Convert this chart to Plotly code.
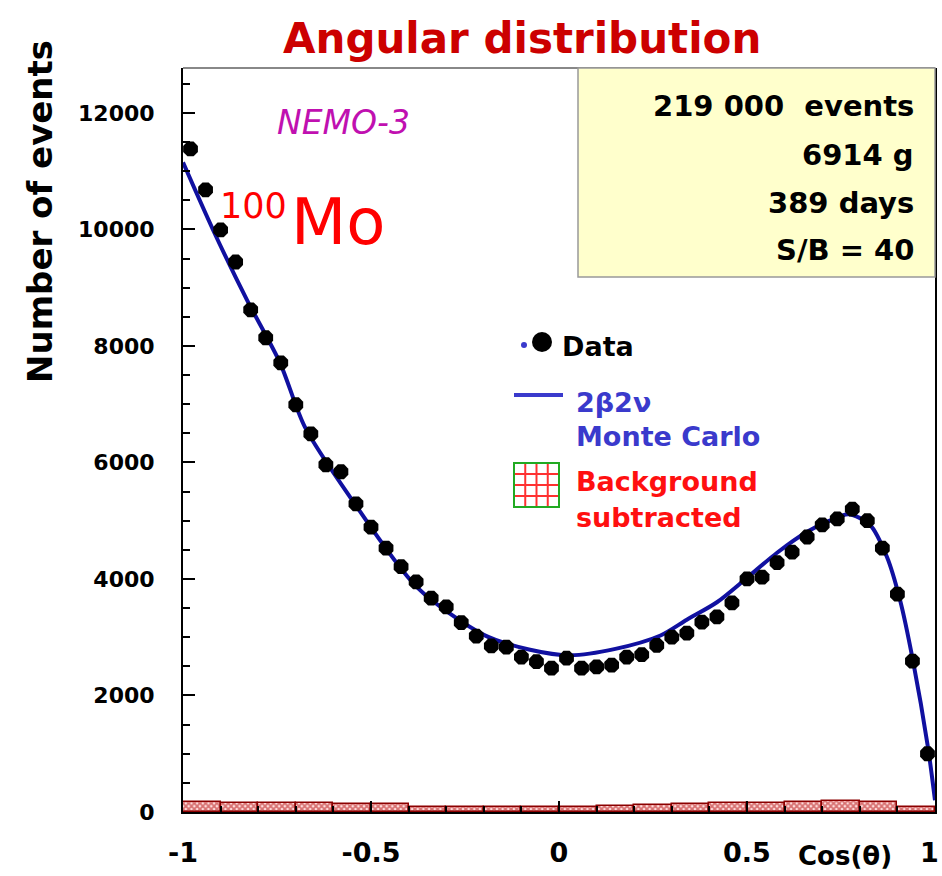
import plotly.graph_objects as go

# ---------------- data ----------------
cos_theta = [-0.98, -0.94, -0.90, -0.86, -0.82, -0.78, -0.74, -0.70, -0.66, -0.62,
             -0.58, -0.54, -0.50, -0.46, -0.42, -0.38, -0.34, -0.30, -0.26, -0.22,
             -0.18, -0.14, -0.10, -0.06, -0.02, 0.02, 0.06, 0.10, 0.14, 0.18,
             0.22, 0.26, 0.30, 0.34, 0.38, 0.42, 0.46, 0.50, 0.54, 0.58,
             0.62, 0.66, 0.70, 0.74, 0.78, 0.82, 0.86, 0.90, 0.94, 0.98]
data_events = [11380, 10680, 9990, 9440, 8620, 8140, 7710, 6990, 6490, 5960,
               5840, 5290, 4890, 4530, 4210, 3950, 3670, 3520, 3250, 3020,
               2850, 2830, 2660, 2580, 2470, 2640, 2470, 2490, 2520, 2660,
               2700, 2860, 3000, 3070, 3260, 3350, 3590, 4000, 4030, 4280,
               4460, 4720, 4930, 5030, 5200, 5000, 4530, 3740, 2590, 1000]

mc_x = [-1.0, -0.92, -0.83, -0.742, -0.676, -0.556, -0.378, -0.20, -0.08, 0.03,
        0.15, 0.27, 0.34, 0.42, 0.50, 0.58, 0.66, 0.72, 0.77, 0.827,
        0.872, 0.907, 0.941, 0.981, 1.0]
mc_y = [11150, 9990, 8790, 7710, 6610, 5410, 3860, 3040, 2790, 2690,
        2800, 3030, 3300, 3600, 4020, 4450, 4810, 5000, 5110, 4930,
        4380, 3640, 2610, 1120, 200]

bkg_x = [-0.95, -0.85, -0.75, -0.65, -0.55, -0.45, -0.35, -0.25, -0.15, -0.05,
         0.05, 0.15, 0.25, 0.35, 0.45, 0.55, 0.65, 0.75, 0.85, 0.95]
bkg_y = [180, 160, 160, 150, 140, 130, 90, 80, 80, 80,
         85, 110, 120, 135, 150, 160, 180, 190, 170, 90]

y_ticks = [0, 2000, 4000, 6000, 8000, 10000, 12000]
x_ticks = [-1, -0.5, 0, 0.5, 1]
x_ticklabels = ["-1", "-0.5", "0", "0.5", "1"]
info_lines = ["219 000  events", "6914 g", "389 days", "S/B = 40"]

# ---------------- layout geometry (pixels) ----------------
W, H = 942, 876
L, R, T, B = 183, 935, 68, 812
FONT = "DejaVu Sans"


def X(px):
    return (px - L) / (R - L)


def Y(py):
    return (B - py) / (B - T)


fig = go.Figure()

fig.add_trace(go.Bar(
    x=bkg_x, y=bkg_y, width=0.1,
    marker=dict(color="white", line=dict(color="#8b0000", width=1.5),
                pattern=dict(shape="x", fgcolor="#b00000", bgcolor="#ffe0e0",
                             size=4, solidity=0.7)),
    showlegend=False, hoverinfo="skip"))

fig.add_trace(go.Scatter(
    x=mc_x, y=mc_y, mode="lines",
    line=dict(color="#1010a0", width=4, shape="spline", smoothing=0.8),
    showlegend=False))

fig.add_trace(go.Scatter(
    x=cos_theta, y=data_events, mode="markers",
    marker=dict(color="black", size=16, symbol="octagon"),
    showlegend=False))

shapes = []
annotations = []

# top frame (gray)
shapes.append(dict(type="line", xref="paper", yref="paper", x0=0, x1=1, y0=1, y1=1,
                   line=dict(color="#888888", width=2)))
# info box
shapes.append(dict(type="rect", xref="paper", yref="paper",
                   x0=X(578), x1=X(935), y0=Y(277), y1=Y(68),
                   fillcolor="#ffffcc", line=dict(color="#999999", width=1.5), layer="above"))
info_y = [106, 155, 203, 250]
for txt, py in zip(info_lines, info_y):
    annotations.append(dict(xref="paper", yref="paper", x=X(916), y=Y(py), text="<b>%s</b>" % txt,
                            showarrow=False, xanchor="right", yanchor="middle",
                            font=dict(family=FONT, size=29, color="black")))

# legend: Data
shapes.append(dict(type="circle", xref="paper", yref="paper",
                   x0=X(521), x1=X(527), y0=Y(348), y1=Y(342),
                   fillcolor="#3a3acc", line=dict(width=0), layer="above"))
shapes.append(dict(type="circle", xref="paper", yref="paper",
                   x0=X(532), x1=X(552), y0=Y(352), y1=Y(332),
                   fillcolor="black", line=dict(width=0), layer="above"))
annotations.append(dict(xref="paper", yref="paper", x=X(560), y=Y(346), text="<b>Data</b>",
                        showarrow=False, xanchor="left", yanchor="middle",
                        font=dict(family=FONT, size=27, color="black")))
# legend: MC
shapes.append(dict(type="line", xref="paper", yref="paper",
                   x0=X(514), x1=X(563), y0=Y(395), y1=Y(395),
                   line=dict(color="#3a3acc", width=4), layer="above"))
annotations.append(dict(xref="paper", yref="paper", x=X(574), y=Y(402), text="<b>2β2ν</b>",
                        showarrow=False, xanchor="left", yanchor="middle",
                        font=dict(family=FONT, size=27, color="#3a3acc")))
annotations.append(dict(xref="paper", yref="paper", x=X(574), y=Y(436), text="<b>Monte Carlo</b>",
                        showarrow=False, xanchor="left", yanchor="middle",
                        font=dict(family=FONT, size=27, color="#3a3acc")))
# legend: background hatched box
bx0, bx1, by0, by1 = 514, 559, 463, 507
shapes.append(dict(type="rect", xref="paper", yref="paper",
                   x0=X(bx0), x1=X(bx1), y0=Y(by1), y1=Y(by0),
                   fillcolor="white", line=dict(color="#22aa22", width=2), layer="above"))
for k in range(1, 4):
    gx = bx0 + (bx1 - bx0) * k / 4
    gy = by0 + (by1 - by0) * k / 4
    shapes.append(dict(type="line", xref="paper", yref="paper", x0=X(gx), x1=X(gx),
                       y0=Y(by1 - 1), y1=Y(by0 + 1), line=dict(color="#ff3030", width=2), layer="above"))
    shapes.append(dict(type="line", xref="paper", yref="paper", x0=X(bx0 + 1), x1=X(bx1 - 1),
                       y0=Y(gy), y1=Y(gy), line=dict(color="#ff3030", width=2), layer="above"))
annotations.append(dict(xref="paper", yref="paper", x=X(574), y=Y(482), text="<b>Background</b>",
                        showarrow=False, xanchor="left", yanchor="middle",
                        font=dict(family=FONT, size=27, color="#ff1010")))
annotations.append(dict(xref="paper", yref="paper", x=X(574), y=Y(517), text="<b>subtracted</b>",
                        showarrow=False, xanchor="left", yanchor="middle",
                        font=dict(family=FONT, size=27, color="#ff1010")))

# labels
annotations.append(dict(xref="paper", yref="paper", x=X(522), y=Y(38), text="<b>Angular distribution</b>",
                        showarrow=False, xanchor="center", yanchor="middle",
                        font=dict(family=FONT, size=42, color="#cc0000")))
annotations.append(dict(xref="paper", yref="paper", x=X(343), y=Y(122), text="<i>NEMO-3</i>",
                        showarrow=False, xanchor="center", yanchor="middle",
                        font=dict(family=FONT, size=33, color="#c010b0")))
annotations.append(dict(xref="paper", yref="paper", x=X(289), y=Y(206), text="100",
                        showarrow=False, xanchor="right", yanchor="middle",
                        font=dict(family=FONT, size=35, color="#ff0000")))
annotations.append(dict(xref="paper", yref="paper", x=X(289), y=Y(222), text="Mo",
                        showarrow=False, xanchor="left", yanchor="middle",
                        font=dict(family=FONT, size=64, color="#ff0000")))
annotations.append(dict(xref="paper", yref="paper", x=X(40), y=Y(212), text="<b>Number of events</b>",
                        showarrow=False, xanchor="center", yanchor="middle", textangle=-90,
                        font=dict(family=FONT, size=34, color="black")))
annotations.append(dict(xref="paper", yref="paper", x=X(845), y=Y(856), text="<b>Cos(θ)</b>",
                        showarrow=False, xanchor="center", yanchor="middle",
                        font=dict(family=FONT, size=26, color="black")))
# last x tick label, kept inside the page edge
annotations.append(dict(xref="paper", yref="paper", x=X(941), y=Y(852),
                        text="<b>%s</b>" % x_ticklabels[-1],
                        showarrow=False, xanchor="right", yanchor="middle",
                        font=dict(family=FONT, size=27, color="black")))

fig.update_layout(
    width=W, height=H,
    margin=dict(l=L, r=W - R, t=T, b=H - B, pad=0, autoexpand=False),
    paper_bgcolor="white", plot_bgcolor="white",
    bargap=0, showlegend=False,
    shapes=shapes, annotations=annotations,
    font=dict(family=FONT, color="black"),
)
fig.update_xaxes(
    range=[-1, 1], showgrid=False, zeroline=False, automargin=False,
    showline=True, linecolor="black", linewidth=2,
    tickmode="array", tickvals=x_ticks,
    ticktext=["<b>%s</b>" % t for t in x_ticklabels[:-1]] + [""],
    ticks="inside", ticklen=11, tickwidth=2, tickcolor="black",
    minor=dict(ticks="inside", ticklen=6, dtick=0.1, tickwidth=1.5, tickcolor="black"),
    tickfont=dict(family=FONT, size=27, color="black"), ticklabelstandoff=16,
)
fig.update_yaxes(
    range=[0, 12770], showgrid=False, zeroline=False, automargin=False,
    showline=True, linecolor="black", linewidth=2, mirror=True,
    tickmode="array", tickvals=y_ticks, ticktext=["<b>%d</b>" % v for v in y_ticks],
    ticks="inside", ticklen=12, tickwidth=2, tickcolor="black",
    minor=dict(ticks="inside", ticklen=7, dtick=500, tickwidth=1.5, tickcolor="black"),
    tickfont=dict(family=FONT, size=22, color="black"), ticklabelstandoff=22,
)

fig.write_html("out.html")
